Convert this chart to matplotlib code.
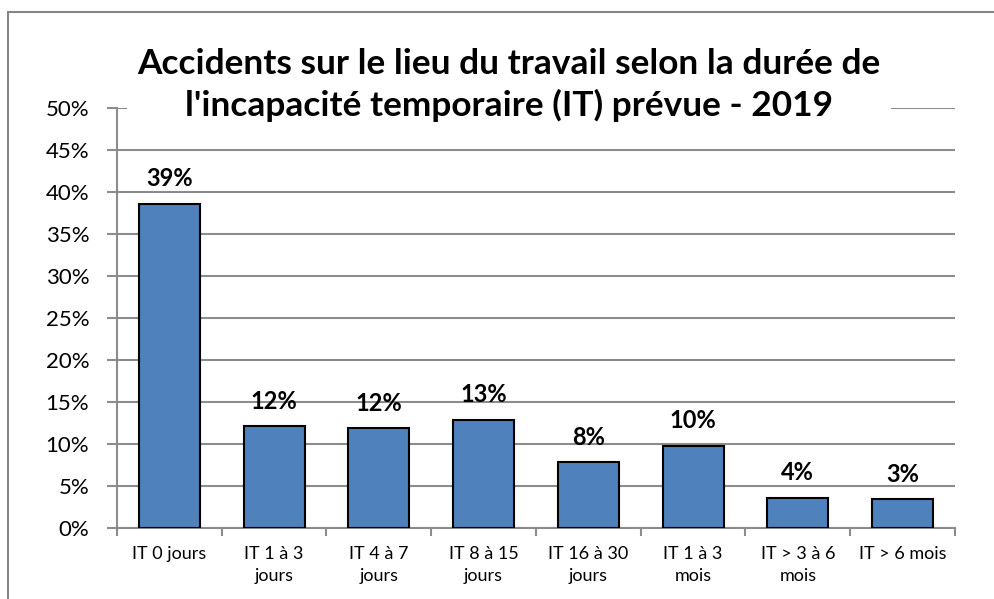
import matplotlib.pyplot as plt
from matplotlib.patches import Rectangle
from matplotlib.ticker import FuncFormatter, MultipleLocator

categories = ['IT 0 jours', 'IT 1 à 3\njours', 'IT 4 à 7\njours', 'IT 8 à 15\njours',
              'IT 16 à 30\njours', 'IT 1 à 3\nmois', 'IT > 3 à 6\nmois', 'IT > 6 mois']
values = [38.6, 12.1, 11.9, 12.9, 7.8, 9.8, 3.6, 3.4]
title = "Accidents sur le lieu du travail selon la durée de\nl'incapacité temporaire (IT) prévue - 2019"

plt.rcParams['font.family'] = ['Lato', 'DejaVu Sans']

W, H = 995, 599
fig = plt.figure(figsize=(W / 100, H / 100), dpi=100)
ax = fig.add_axes([117 / W, 1 - 528 / H, (955 - 117) / W, (528 - 108) / H])

grid_col = '#8c8c8c'
ax.bar(range(len(values)), values, width=0.58, color='#4f81bd',
       edgecolor='black', linewidth=1.5, zorder=3)

for i, v in enumerate(values):
    ax.annotate(f'{v:.0f}%', (i, v), xytext=(0, 18), textcoords='offset points',
                ha='center', va='center', fontsize=17, fontweight='bold')

ax.set_xlim(-0.5, len(values) - 0.5)
ax.set_ylim(0, 50)
ax.yaxis.set_major_locator(MultipleLocator(5))
ax.yaxis.set_major_formatter(FuncFormatter(lambda y, _: f'{y:.0f}%'))
ax.grid(axis='y', color=grid_col, linewidth=1.5, zorder=0)

ax.set_xticks(range(len(values)))
ax.set_xticklabels(categories, fontsize=13, linespacing=1.45)
ax.tick_params(axis='x', length=0, pad=13)
ax.set_xticks([i + 0.5 for i in range(-1, len(values))], minor=True)
ax.tick_params(axis='x', which='minor', length=6, width=1.5, color=grid_col, direction='out')
ax.tick_params(axis='y', length=7, width=1.5, color=grid_col, labelsize=16, pad=13)

for s in ['top', 'right']:
    ax.spines[s].set_visible(False)
for s in ['left', 'bottom']:
    ax.spines[s].set_color(grid_col)
    ax.spines[s].set_linewidth(1.5)

fig.text(509 / W, 1 - 85 / H, title, ha='center', va='center', fontsize=25.4,
         fontweight='bold', linespacing=1.35, zorder=10,
         bbox=dict(facecolor='white', edgecolor='none', pad=7))

fig.patches.append(Rectangle((8 / W, -0.1), 1.2, 1 - 12 / H + 0.1, transform=fig.transFigure,
                             fill=False, edgecolor='#868686', linewidth=1.5))

fig.savefig('out.png', dpi=100)
